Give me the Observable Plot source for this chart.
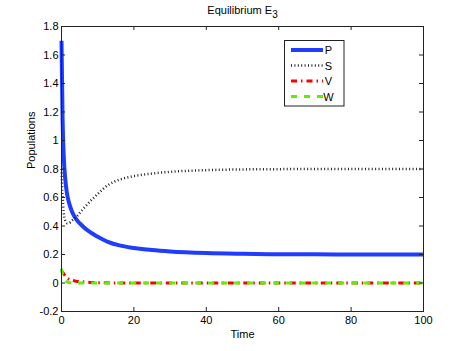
<!DOCTYPE html>
<html>
<head>
<meta charset="utf-8">
<script src="https://cdn.jsdelivr.net/npm/d3@7"></script>
<script src="https://cdn.jsdelivr.net/npm/@observablehq/plot@0.6"></script>
<style>
  html, body { margin: 0; padding: 0; background: #fff; }
  #chart svg { display: block; }
</style>
</head>
<body>
<div id="chart"></div>
<script>
const time = [0, 0.3, 0.6, 1, 1.5, 2, 3, 4, 5, 6, 8, 10, 13, 16, 20, 25, 30, 40, 50, 60, 70, 80, 90, 100];
const P = [1.7, 1.15, 0.9, 0.74, 0.63, 0.57, 0.495, 0.45, 0.42, 0.395, 0.355, 0.325, 0.287, 0.264, 0.246, 0.231, 0.221, 0.21, 0.205, 0.202, 0.201, 0.2, 0.2, 0.2];
const S = [0.8, 0.62, 0.5, 0.44, 0.42, 0.42, 0.44, 0.46, 0.49, 0.52, 0.575, 0.625, 0.69, 0.725, 0.75, 0.768, 0.78, 0.792, 0.797, 0.799, 0.8, 0.8, 0.8, 0.8];
const V = [0.085, 0.075, 0.065, 0.05, 0.035, 0.027, 0.018, 0.013, 0.01, 0.008, 0.004, 0.002, 0.001, 0, 0, 0, 0, 0, 0, 0, 0, 0, 0, 0];
const W = [0.1, 0.06, 0.035, 0.018, 0.008, 0.004, 0.001, 0, 0, 0, 0, 0, 0, 0, 0, 0, 0, 0, 0, 0, 0, 0, 0, 0];

const seriesNames = ["P", "S", "V", "W"];
const seriesValues = [P, S, V, W];
const xTicks = [0, 20, 40, 60, 80, 100];
const yTicks = [-0.2, 0, 0.2, 0.4, 0.6, 0.8, 1, 1.2, 1.4, 1.6, 1.8];
const titleText = "Equilibrium E";
const titleSub = "3";
const xLabel = "Time";
const yLabel = "Populations";

const styles = {
  P: {stroke: "#1f3dff", strokeWidth: 4, dash: null},
  S: {stroke: "#222", strokeWidth: 2.5, dash: "1,2.4"},
  V: {stroke: "#ff0000", strokeWidth: 3, dash: "6,4,1.5,4"},
  W: {stroke: "#5ef000", strokeWidth: 3, dash: "6,7"}
};

const rows = seriesNames.map((name, i) => time.map((t, j) => ({series: name, t, v: seriesValues[i][j]})));

const W_ = 467, H_ = 351;
const mL = 61, mR = 44, mT = 26, mB = 40;
const fw = W_ - mL - mR, fh = H_ - mT - mB;
const tl = 4;

const plot = Plot.plot({
  width: W_, height: H_,
  marginLeft: mL, marginRight: mR, marginTop: mT, marginBottom: mB,
  style: {fontFamily: "'Liberation Sans', Arial, Helvetica, sans-serif", fontSize: "11px", background: "#fff", color: "#000"},
  x: {domain: [0, 100], ticks: xTicks, tickSize: 0, tickPadding: 5, label: null},
  y: {domain: [-0.2, 1.8], ticks: yTicks, tickSize: 0, tickPadding: 3, label: null, tickFormat: d => String(+d.toFixed(1))},
  marks: [
    ...rows.map((data, i) => {
      const st = styles[seriesNames[i]];
      return Plot.line(data, {x: "t", y: "v", stroke: st.stroke, strokeWidth: st.strokeWidth,
        strokeDasharray: st.dash ?? undefined, curve: "monotone-x", strokeLinecap: "butt"});
    }),
    Plot.frame({stroke: "#222", strokeWidth: 1}),
    Plot.tickX(xTicks, {x: d => d, insetTop: fh - tl, stroke: "#222"}),
    Plot.tickX(xTicks, {x: d => d, insetBottom: fh - tl, stroke: "#222"}),
    Plot.tickY(yTicks, {y: d => d, insetRight: fw - tl, stroke: "#222"}),
    Plot.tickY(yTicks, {y: d => d, insetLeft: fw - tl, stroke: "#222"}),
    Plot.text([titleText], {text: d => d, frameAnchor: "top", dy: -13, lineAnchor: "bottom", fontSize: 11}),
    Plot.text([xLabel], {text: d => d, frameAnchor: "bottom", dy: 26, lineAnchor: "bottom", fontSize: 11}),
    Plot.text([yLabel], {text: d => d, frameAnchor: "left", dx: -27, rotate: -90, lineAnchor: "bottom", fontSize: 11})
  ]
});

// subscript on title
d3.select(plot).selectAll("text").filter(function() { return this.textContent === titleText; })
  .append("tspan").attr("dy", 4).attr("font-size", 10).text(titleSub);

// legend
const svg = d3.select(plot);
const lg = svg.append("g");
const lx = 284.5, ly = 40.5, lw = 59.5, lh = 65.5;
lg.append("rect").attr("x", lx).attr("y", ly).attr("width", lw).attr("height", lh)
  .attr("fill", "#fff").attr("stroke", "#222").attr("stroke-width", 1);
const rowY = [50, 65.5, 81, 96.5];
seriesNames.forEach((name, i) => {
  const st = styles[name];
  lg.append("line").attr("x1", 291).attr("x2", 323).attr("y1", rowY[i]).attr("y2", rowY[i])
    .attr("stroke", st.stroke).attr("stroke-width", st.strokeWidth)
    .attr("stroke-dasharray", st.dash);
  lg.append("text").attr("x", 328.5).attr("y", rowY[i] + 4)
    .attr("font-size", 11).attr("fill", "#000").text(name);
});

document.getElementById("chart").appendChild(plot);
</script>
</body>
</html>
